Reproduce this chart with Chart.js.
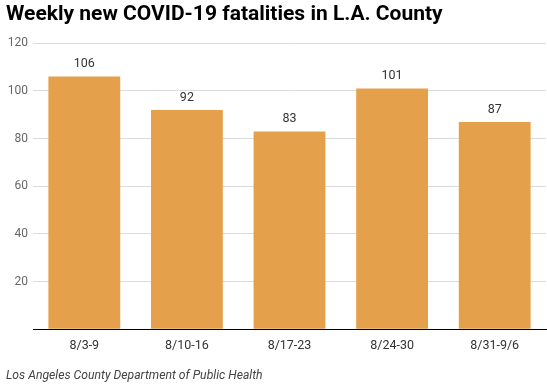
<!DOCTYPE html>
<html>
<head>
<meta charset="utf-8">
<script src="https://cdn.jsdelivr.net/npm/chart.js@4/dist/chart.umd.min.js"></script>
<style>
  html, body { margin: 0; padding: 0; background: #fff; }
  #wrap { width: 547px; height: 387px; position: relative; }
</style>
</head>
<body>
<div id="wrap"><canvas id="chart"></canvas></div>
<script>
const weeks = ["8/3-9", "8/10-16", "8/17-23", "8/24-30", "8/31-9/6"];
const deaths = [106, 92, 83, 101, 87];
const yTicks = [0, 20, 40, 60, 80, 100, 120];

const barColor = "#e5a04b";

// numbers over the bars
const valueLabels = {
  id: "valueLabels",
  afterDatasetsDraw(chart) {
    const ctx = chart.ctx;
    const meta = chart.getDatasetMeta(0);
    ctx.save();
    ctx.font = "12.5px Roboto";
    ctx.fillStyle = "#333";
    ctx.textAlign = "center";
    ctx.textBaseline = "bottom";
    meta.data.forEach((bar, i) => {
      ctx.fillText(deaths[i], bar.x, bar.y - 6);
    });
    ctx.restore();
  }
};

new Chart(document.getElementById("chart"), {
  type: "bar",
  plugins: [valueLabels],
  data: {
    labels: weeks,
    datasets: [{
      data: deaths,
      backgroundColor: barColor,
      barPercentage: 0.7,
      categoryPercentage: 1.0
    }]
  },
  options: {
    responsive: true,
    maintainAspectRatio: false,
    animation: false,
    layout: { padding: { left: 6, right: 1, top: 0, bottom: 4 } },
    plugins: {
      legend: { display: false },
      tooltip: { enabled: false },
      title: {
        display: true,
        text: "Weekly new COVID-19 fatalities in L.A. County",
        align: "start",
        color: "#000",
        font: { family: "Roboto", size: 21, weight: "bold" },
        padding: { top: 2, bottom: 16 }
      },
      subtitle: {
        display: true,
        position: "bottom",
        text: "Los Angeles County Department of Public Health",
        align: "start",
        color: "#444",
        font: { family: "Roboto", size: 12.2, style: "italic" },
        padding: { top: 14, bottom: 0 }
      }
    },
    scales: {
      x: {
        grid: { display: false },
        border: { display: true, color: "#000", width: 1 },
        ticks: { color: "#333", font: { family: "Roboto", size: 12.5 }, padding: 1 }
      },
      y: {
        min: yTicks[0],
        max: yTicks[yTicks.length - 1],
        border: { display: false },
        grid: { color: "#dcdcdc", drawTicks: false },
        afterBuildTicks(axis) {
          axis.ticks = yTicks.map(v => ({ value: v }));
        },
        afterFit(axis) {
          axis.width = 27;
        },
        ticks: {
          color: "#666",
          font: { family: "Roboto", size: 12 },
          padding: 5,
          callback: v => (v === 0 ? "" : v)
        }
      }
    }
  }
});
</script>
</body>
</html>
